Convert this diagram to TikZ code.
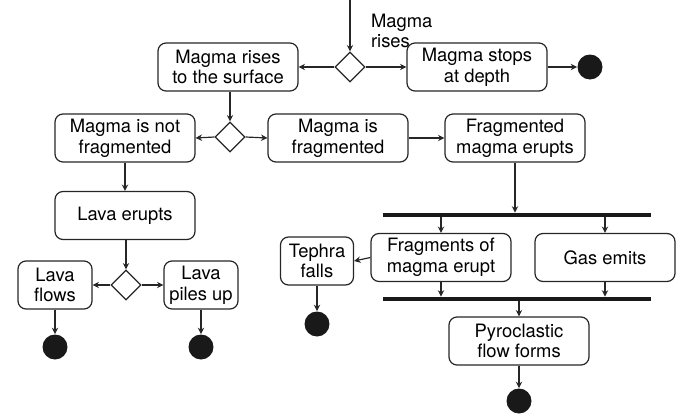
\documentclass[tikz,border=0pt]{standalone}
\usepackage{fontspec}
\setmainfont{TeX Gyre Heros}
\usetikzlibrary{arrows.meta,shapes.geometric}

\begin{document}
\begin{tikzpicture}[x=0.5pt, y=-0.5pt, >={Stealth[length=3.2pt,width=3.2pt]},
  every node/.style={font=\fontsize{9.2}{10.4}\selectfont},
  act/.style={draw=black!85, rounded corners=4pt, align=center, minimum width=70pt,
    minimum height=24pt, inner sep=0pt, line width=0.6pt},
  choice/.style={draw=black!85, diamond, minimum size=15pt, inner sep=0pt, line width=0.6pt},
  final/.style={circle, fill=black!90, minimum size=12.5pt, inner sep=0pt},
  sync/.style={fill=black!90, minimum width=134pt, minimum height=2pt, inner sep=0pt},
  flow/.style={->, draw=black!85, line width=0.6pt}]
  \useasboundingbox (0,0) rectangle (682,418);

  % start: magma rises
  \coordinate (start) at (350,0);
  \node[choice] (d1) at (350,67) {};
  \node[anchor=west, align=left] (lbl) at (364,31) {Magma\\rises};
  \node[act] (rise) at (228,67) {Magma rises\\to the surface};
  \node[act] (stop) at (477,67) {Magma stops\\at depth};
  \node[final] (end1) at (590,67) {};
  \draw[flow] (start) -- (d1.north);
  \draw[flow] (d1.west) -- (rise.east);
  \draw[flow] (d1.east) -- (stop.east -| stop.west);
  \draw[flow] (stop.east) -- (end1.west);

  % fragmentation
  \node[choice] (d2) at (230,137) {};
  \node[act] (notfrag) at (125,138) {Magma is not\\fragmented};
  \node[act] (frag) at (338,138) {Magma is\\fragmented};
  \node[act] (fragerupt) at (515,138) {Fragmented\\magma erupts};
  \draw[flow] (rise.south -| d2.north) -- (d2.north);
  \draw[flow] (d2.west) -- (notfrag.east);
  \draw[flow] (d2.east) -- (frag.west);
  \draw[flow] (frag.east) -- (fragerupt.west);

  % lava branch
  \node[act] (lava) at (125,215.5) {Lava erupts};
  \node[choice] (d3) at (126,285) {};
  \node[act, minimum width=37pt] (flows) at (55,285) {Lava\\flows};
  \node[act, minimum width=37pt] (piles) at (201,285) {Lava\\piles up};
  \node[final] (end2) at (55,347) {};
  \node[final] (end3) at (201,347) {};
  \draw[flow] (notfrag.south) -- (lava.north);
  \draw[flow] (lava.south -| d3.north) -- (d3.north);
  \draw[flow] (d3.west) -- (flows.east);
  \draw[flow] (d3.east) -- (piles.west);
  \draw[flow] (flows.south) -- (end2.north);
  \draw[flow] (piles.south) -- (end3.north);

  % fork and join
  \node[sync] (fork) at (517,215) {};
  \node[act] (fragments) at (441,257.5) {Fragments of\\magma erupt};
  \node[act] (gas) at (605,257.5) {Gas emits};
  \node[act, minimum width=36.5pt] (tephra) at (317,261) {Tephra\\falls};
  \node[final] (end4) at (317,324) {};
  \node[sync] (join) at (517,299) {};
  \node[act] (pyro) at (519,341) {Pyroclastic\\flow forms};
  \node[final] (end5) at (519,401) {};
  \draw[flow] (fragerupt.south) -- (fragerupt.south |- fork.north);
  \draw[flow] (fragments.north |- fork.south) -- (fragments.north);
  \draw[flow] (gas.north |- fork.south) -- (gas.north);
  \draw[flow] (fragments.west) -- (tephra.east);
  \draw[flow] (tephra.south) -- (end4.north);
  \draw[flow] (fragments.south) -- (fragments.south |- join.north);
  \draw[flow] (gas.south) -- (gas.south |- join.north);
  \draw[flow] (pyro.north |- join.south) -- (pyro.north);
  \draw[flow] (pyro.south) -- (end5.north);
\end{tikzpicture}
\end{document}
